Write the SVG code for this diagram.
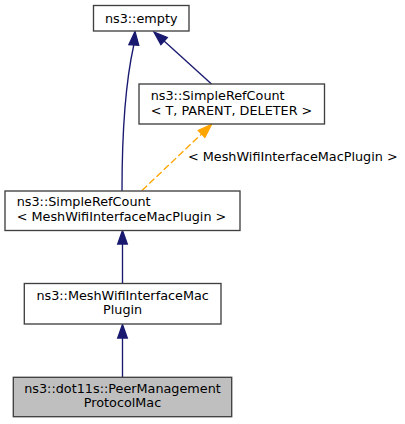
<svg xmlns="http://www.w3.org/2000/svg" width="405" height="424" viewBox="0 0 405 424">
<style>
.box{fill:#ffffff;stroke:#404040;stroke-width:1.35}
.cur{fill:#bfbfbf;stroke:#404040;stroke-width:1.35}
text{font-family:"DejaVu Sans",sans-serif;font-size:12.8px;fill:#000000}
.c{text-anchor:middle}
.e{fill:none;stroke:#191970;stroke-width:1.35}
.eh{fill:#191970;stroke:#191970;stroke-width:1.35}
.o{fill:none;stroke:#ffa500;stroke-width:1.35;stroke-dasharray:7,3}
.oh{fill:#ffa500;stroke:#ffa500;stroke-width:1.35}
</style>
<rect width="405" height="424" fill="#ffffff"/>
<g id="connectors">
  <path class="e" d="M122,191 C122,130 126,80 133.8,45"/>
  <polygon class="eh" points="135,31.5 128.9,44.7 138.7,45.3"/>
  <path class="e" d="M211.5,84 L164.1,41.1"/>
  <polygon class="eh" points="154,32 167.3,37.5 160.9,44.7"/>
  <path class="o" d="M142,190.5 L201.6,133.9"/>
  <polygon class="oh" points="211.5,124.5 204.9,137.4 198.3,130.4"/>
  <text x="188" y="161">&lt; MeshWifiInterfaceMacPlugin &gt;</text>
  <path class="e" d="M122.5,283 L122.5,244"/>
  <polygon class="eh" points="122.5,230.5 117.7,244 127.3,244"/>
  <path class="e" d="M122.5,377 L122.5,338"/>
  <polygon class="eh" points="122.5,324.5 117.7,338 127.3,338"/>
</g>
<g id="node-empty">
  <rect class="box" x="93.5" y="5.5" width="95.5" height="25.5"/>
  <text class="c" x="141.2" y="22.7">ns3::empty</text>
</g>
<g id="node-simplerefcount-t">
  <rect class="box" x="139" y="84" width="185.5" height="40"/>
  <text x="150.7" y="100">ns3::SimpleRefCount</text>
  <text x="150.7" y="114.6">&lt; T, PARENT, DELETER &gt;</text>
</g>
<g id="node-simplerefcount-mesh">
  <rect class="box" x="5" y="191" width="235" height="39.5"/>
  <text x="16.7" y="206.3">ns3::SimpleRefCount</text>
  <text x="16.7" y="220.9">&lt; MeshWifiInterfaceMacPlugin &gt;</text>
</g>
<g id="node-meshplugin">
  <rect class="box" x="24.3" y="283.5" width="196.7" height="40.5"/>
  <text class="c" x="122.6" y="299.5">ns3::MeshWifiInterfaceMac</text>
  <text class="c" x="122.6" y="314.1">Plugin</text>
</g>
<g id="node-peermanagement">
  <rect class="cur" x="13.3" y="377.3" width="218.4" height="39.4"/>
  <text class="c" x="122.5" y="392.7">ns3::dot11s::PeerManagement</text>
  <text class="c" x="122.5" y="407.3">ProtocolMac</text>
</g>
</svg>
